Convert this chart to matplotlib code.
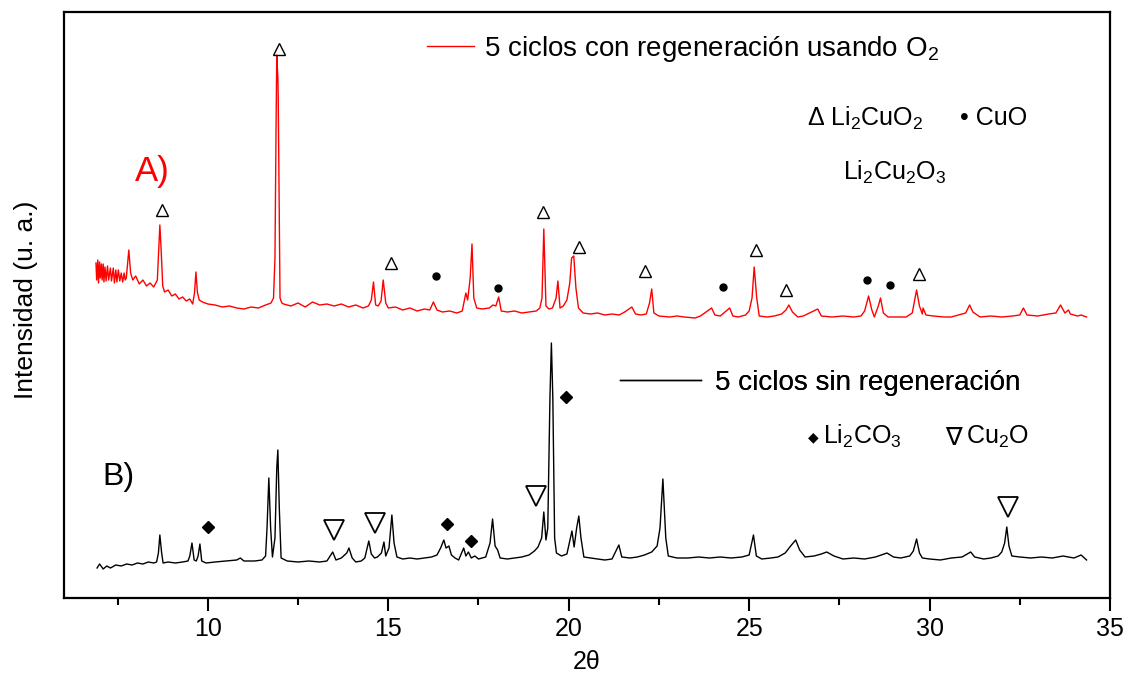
import matplotlib
matplotlib.use("Agg")
import matplotlib.pyplot as plt
from matplotlib.ticker import MultipleLocator, NullLocator

# ---------------- data (2theta, intensity in a.u.) ----------------
red_2theta = [6.90, 6.92, 6.95, 6.97, 7.00, 7.02, 7.05, 7.07, 7.10, 7.12, 7.15, 7.18, 7.22, 7.25,
              7.30, 7.33, 7.38, 7.41, 7.45, 7.48, 7.52, 7.56, 7.60, 7.64, 7.68, 7.71, 7.74,
              7.81, 7.86, 7.92, 8.00, 8.10, 8.20, 8.30, 8.40, 8.50, 8.60, 8.64, 8.67, 8.71, 8.75,
              8.80, 8.90, 9.00, 9.10, 9.20, 9.30, 9.40, 9.50, 9.58, 9.63, 9.67, 9.71, 9.76, 9.85,
              10.0, 10.2, 10.4, 10.6, 10.8, 11.0, 11.2, 11.4, 11.6, 11.75, 11.82, 11.86, 11.89,
              11.91, 11.94, 11.95, 11.97, 12.00, 12.05, 12.1, 12.3, 12.5, 12.7, 12.9, 13.1, 13.3,
              13.5, 13.7, 13.9, 14.1, 14.3, 14.45, 14.53, 14.59, 14.65, 14.72, 14.80, 14.86, 14.93,
              15.0, 15.2, 15.4, 15.6, 15.8, 16.0, 16.15, 16.25, 16.35, 16.5, 16.7, 16.9, 17.05,
              17.15, 17.20, 17.27, 17.32, 17.37, 17.45, 17.6, 17.8, 17.9, 17.98, 18.06, 18.13,
              18.3, 18.5, 18.7, 18.9, 19.1, 19.2, 19.26, 19.31, 19.37, 19.45, 19.55, 19.65, 19.70,
              19.76, 19.85, 19.95, 20.03, 20.08, 20.14, 20.20, 20.27, 20.4, 20.6, 20.8, 21.0, 21.2,
              21.4, 21.55, 21.75, 21.85, 22.0, 22.15, 22.24, 22.30, 22.36, 22.5, 22.8, 23.0, 23.2,
              23.5, 23.65, 23.96, 24.05, 24.2, 24.46, 24.55, 24.7, 24.9, 25.0, 25.08, 25.14, 25.21,
              25.28, 25.5, 25.7, 25.9, 26.02, 26.10, 26.2, 26.35, 26.5, 26.9, 27.0, 27.3, 27.6,
              27.9, 28.1, 28.2, 28.31, 28.4, 28.47, 28.58, 28.64, 28.72, 28.85, 29.1, 29.35, 29.52,
              29.64, 29.72, 29.80, 29.82, 29.9, 30.1, 30.4, 30.6, 31.0, 31.11, 31.2, 31.4, 31.7,
              32.0, 32.3, 32.5, 32.6, 32.7, 33.0, 33.3, 33.5, 33.63, 33.75, 33.85, 33.9, 34.1,
              34.2, 34.35]
red_int = [335, 318, 338, 315, 336, 320, 334, 318, 334, 316, 331, 317, 332, 318,
           330, 317, 330, 315, 328, 316, 328, 317, 325, 316, 325, 318, 320,
           348, 325, 318, 322, 314, 318, 312, 315, 311, 318, 350, 373, 345, 312,
           306, 308, 302, 304, 299, 301, 297, 299, 294, 305, 326, 306, 298, 296,
           294, 293, 291, 292, 290, 289, 291, 290, 293, 295, 300, 340, 470,
           543, 520, 501, 420, 300, 295, 294, 292, 295, 291, 296, 293, 294,
           292, 294, 291, 293, 290, 292, 298, 316, 293, 292, 297, 318, 295,
           290, 291, 288, 290, 287, 289, 288, 296, 288, 286, 287, 285, 287,
           305, 298, 320, 354, 300, 290, 289, 290, 293, 292, 301, 287,
           286, 287, 285, 286, 287, 290, 300, 369, 292, 289, 290, 300, 317,
           290, 292, 298, 315, 340, 342, 310, 290, 285, 284, 285, 283, 284,
           283, 286, 291, 284, 283, 284, 295, 309, 285, 282, 281, 282, 281,
           280, 282, 290, 283, 282, 290, 282, 281, 283, 287, 300, 331, 300,
           282, 281, 282, 284, 288, 293, 286, 281, 282, 289, 282, 281, 282,
           281, 282, 287, 302, 288, 281, 292, 300, 285, 281, 281, 281, 285,
           308, 292, 284, 290, 283, 282, 281, 281, 285, 293, 286, 281, 282,
           281, 282, 283, 290, 283, 282, 284, 285, 293, 285, 288, 284, 282,
           283, 281]

black_2theta = [6.93, 7.00, 7.10, 7.20, 7.30, 7.45, 7.60, 7.75, 7.90, 8.05, 8.20, 8.35, 8.50, 8.58,
                8.63, 8.67, 8.72, 8.76, 8.90, 9.10, 9.30, 9.45, 9.50, 9.56, 9.62, 9.68, 9.73, 9.78,
                9.83, 9.95, 10.2, 10.5, 10.8, 10.9, 11.0, 11.3, 11.5, 11.6, 11.64, 11.69, 11.74,
                11.79, 11.86, 11.91, 11.94, 11.98, 12.03, 12.2, 12.5, 12.8, 13.1, 13.3, 13.46, 13.55,
                13.7, 13.85, 13.91, 14.0, 14.1, 14.25, 14.35, 14.46, 14.53, 14.62, 14.70, 14.81,
                14.88, 14.93, 15.02, 15.10, 15.16, 15.24, 15.4, 15.6, 15.8, 16.0, 16.2, 16.35, 16.45,
                16.54, 16.60, 16.68, 16.75, 16.85, 16.95, 17.09, 17.15, 17.22, 17.3, 17.4, 17.5,
                17.7, 17.82, 17.89, 17.96, 18.03, 18.1, 18.3, 18.5, 18.7, 18.9, 19.05, 19.15, 19.25,
                19.31, 19.37, 19.42, 19.48, 19.52, 19.56, 19.61, 19.66, 19.8, 19.95, 20.09, 20.15,
                20.22, 20.28, 20.34, 20.42, 20.6, 20.8, 21.0, 21.2, 21.39, 21.47, 21.7, 21.9, 22.1,
                22.3, 22.45, 22.53, 22.61, 22.69, 22.76, 23.0, 23.3, 23.6, 23.9, 24.2, 24.5, 24.8,
                25.0, 25.12, 25.2, 25.35, 25.6, 25.8, 26.0, 26.15, 26.29, 26.4, 26.55, 26.8, 27.0,
                27.15, 27.35, 27.6, 27.9, 28.2, 28.5, 28.82, 29.0, 29.2, 29.45, 29.55, 29.64, 29.72,
                29.8, 30.0, 30.3, 30.6, 30.9, 31.14, 31.25, 31.5, 31.7, 31.9, 32.0, 32.08, 32.14,
                32.2, 32.28, 32.5, 32.8, 33.1, 33.4, 33.7, 34.0, 34.2, 34.35]
black_int = [30, 34, 29, 32, 30, 33, 32, 34, 33, 35, 34, 36, 35, 36,
             45, 63, 45, 35, 36, 35, 36, 37, 42, 55, 38, 37, 42, 54,
             37, 35, 36, 37, 38, 40, 37, 37, 38, 42, 70, 120, 70,
             41, 60, 130, 148, 90, 40, 37, 36, 37, 36, 37, 46, 38,
             40, 45, 50, 40, 36, 37, 40, 57, 44, 40, 41, 45,
             56, 42, 50, 83, 55, 41, 39, 40, 39, 40, 41, 43, 50,
             58, 50, 52, 43, 40, 38, 50, 42, 46, 40, 42, 39,
             41, 55, 79, 52, 48, 40, 39, 40, 41, 43, 47, 51, 60,
             86, 58, 70, 200, 255, 200, 60, 45, 42, 44, 67, 51,
             70, 82, 60, 41, 40, 39, 38, 39, 53, 41, 40, 41, 43,
             46, 52, 70, 119, 60, 42, 40, 40, 41, 40, 41, 40, 41,
             43, 63, 42, 39, 40, 41, 45, 52, 58, 48, 41, 42, 44,
             46, 42, 39, 40, 39, 41, 45, 41, 40, 42, 47, 59, 45,
             40, 39, 38, 40, 41, 46, 41, 39, 40, 42, 46, 55, 71,
             52, 42, 41, 40, 41, 40, 42, 40, 43, 38]

# phase markers (position 2theta, intensity)
li2cuo2_x = [8.73, 11.97, 15.07, 19.28, 20.28, 22.11, 25.18, 26.01, 29.70]
li2cuo2_y = [388, 549, 335, 386, 351, 327, 348, 308, 324]
cuo_x = [16.31, 18.04, 24.27, 28.26, 28.89]
cuo_y = [322, 310, 311, 318, 313]
li2co3_x = [10.00, 16.62, 17.29, 19.92]
li2co3_y = [71, 74, 57, 201]
cu2o_x = [13.49, 14.63, 19.09, 32.16]
cu2o_y = [68, 75, 102, 91]

label_red = "5 ciclos con regeneración usando O$_2$"
label_black = "5 ciclos sin regeneración"
xticks = [10, 15, 20, 25, 30, 35]

# ---------------- figure ----------------
sans = ['Liberation Sans', 'DejaVu Sans']
plt.rcParams['font.family'] = sans
plt.rcParams['mathtext.fontset'] = 'custom'
plt.rcParams['mathtext.rm'] = 'Liberation Sans'

fig = plt.figure(figsize=(11.24, 6.75), dpi=100)
ax = fig.add_axes([63.5/1124, 1-598/675, (1110-63.5)/1124, 586/675])

l_red, = ax.plot(red_2theta, red_int, color='#ff0000', lw=1.0)
l_blk, = ax.plot(black_2theta, black_int, color='black', lw=1.0)

ax.plot(li2cuo2_x, li2cuo2_y, ls='none', marker='^', ms=9, mfc='none', mec='black', mew=1.0)
ax.plot(cuo_x, cuo_y, ls='none', marker='o', ms=5, mfc='black', mec='black')
ax.plot(li2co3_x, li2co3_y, ls='none', marker='D', ms=6.5, mfc='black', mec='black')
ax.plot(cu2o_x, cu2o_y, ls='none', marker='v', ms=15, mfc='none', mec='black', mew=1.3)

ax.set_xlim(6, 35)
ax.set_ylim(0, 586)
ax.set_xticks(xticks)
ax.xaxis.set_minor_locator(MultipleLocator(2.5))
ax.yaxis.set_major_locator(NullLocator())
ax.tick_params(axis='x', which='major', direction='out', length=9, width=1.5, pad=5,
               labelsize=18, top=False)
ax.tick_params(axis='x', which='minor', direction='out', length=5, width=1.5, top=False)
for sp in ax.spines.values():
    sp.set_linewidth(1.6)

ax.set_xlabel("2θ", fontsize=18, labelpad=6)
fig.text(26/1124, 1-300/675, "Intensidad (u. a.)", rotation=90, ha='center', va='center',
         fontsize=19)

# legends
leg1 = ax.legend([l_red], [label_red], loc='center left', bbox_to_anchor=(0.347, 0.937),
                 frameon=False, fontsize=20, handlelength=1.7, handletextpad=0.35,
                 borderaxespad=0, borderpad=0)
ax.add_artist(leg1)
leg2 = ax.legend([l_blk], [label_black], loc='center left', bbox_to_anchor=(0.532, 0.367),
                 frameon=False, fontsize=20, handlelength=2.9, handletextpad=0.5,
                 borderaxespad=0, borderpad=0)
ax.add_artist(leg2)

tr = ax.transAxes
ax.text(0.710, 0.819, "Δ Li$_2$CuO$_2$", transform=tr, fontsize=18, va='center')
ax.text(0.857, 0.819, "• CuO", transform=tr, fontsize=18, va='center')
ax.text(0.745, 0.727, "Li$_2$Cu$_2$O$_3$", transform=tr, fontsize=18, va='center')
ax.text(0.711, 0.275, "◆", transform=tr, fontsize=10, va='center', family=['DejaVu Sans'])
ax.text(0.726, 0.275, "Li$_2$CO$_3$", transform=tr, fontsize=18, va='center')
ax.text(0.842, 0.275, "∇", transform=tr, fontsize=18, va='center', family=['DejaVu Sans'])
ax.text(0.862, 0.275, "Cu$_2$O", transform=tr, fontsize=18, va='center')

ax.text(0.068, 0.727, "A)", transform=tr, fontsize=25, color='#ff0000', va='center')
ax.text(0.037, 0.206, "B)", transform=tr, fontsize=23, color='black', va='center')

fig.savefig("out.png", dpi=100)
